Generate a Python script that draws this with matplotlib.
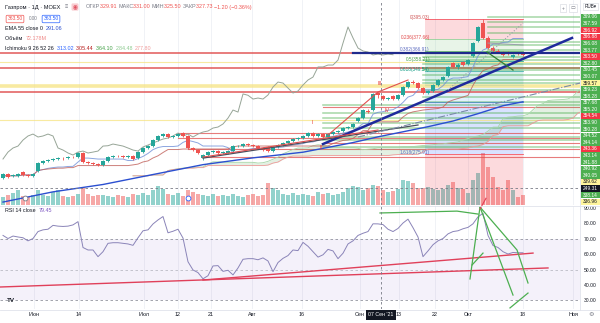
import numpy as np
import pandas as pd
import matplotlib
matplotlib.use("Agg")
import matplotlib.pyplot as plt
from matplotlib.patches import Rectangle, Circle

W, H = 600, 323
plt.rcParams["font.family"] = ["Liberation Sans", "DejaVu Sans"]

UP, DOWN = "#26a69a", "#ef5350"
TXT, GRAY = "#131722", "#787b86"

# ---- daily candles (RUB) ----
opens = [254.7, 258.2, 256.5, 256.5, 260.0, 257.3, 256.5, 260.9, 267.9, 269.7,
         270.6, 271.5, 272.3, 272.3, 273.2, 273.2, 276.8, 268.8, 267.9, 267.1,
         266.2, 269.7, 273.2, 274.1, 274.1, 273.2, 274.1, 272.3, 277.6, 281.2,
         282.9, 288.2, 291.8, 293.5, 290.9, 291.8, 294.4, 291.8, 281.2, 279.4,
         272.3, 275.0, 277.6, 278.5, 276.8, 276.8, 278.5, 282.9, 282.9, 284.7,
         283.8, 282.9, 281.2, 282.1, 278.5, 282.1, 283.8, 285.6, 287.4, 289.1,
         290.0, 291.8, 294.4, 291.8, 293.5, 290.9, 293.5, 295.3, 296.2, 298.8,
         299.7, 305.0, 307.6, 313.8, 314.7, 329.91, 327.0, 324.4, 327.1, 324.4,
         328.0, 335.0, 339.4, 338.5, 334.1, 329.7, 331.5, 336.8, 341.2, 344.7,
         356.2, 352.7, 357.1, 355.3, 362.4, 375.6, 391.5, 378.3, 369.4, 366.8,
         365.9, 365.0, 361.5, 365.0, 364.1]
highs = [259.5, 259.0, 258.0, 259.2, 261.0, 258.0, 259.0, 268.8, 270.5, 271.5,
         272.3, 273.0, 273.0, 274.0, 274.0, 277.6, 277.5, 269.7, 268.8, 268.0,
         270.6, 274.0, 275.0, 275.0, 275.0, 274.8, 274.8, 278.5, 282.0, 283.8,
         289.0, 292.6, 294.4, 294.4, 292.6, 294.4, 295.3, 292.5, 282.0, 280.3,
         275.8, 278.5, 279.4, 279.4, 278.5, 279.4, 283.8, 284.0, 285.6, 285.6,
         284.7, 283.8, 282.1, 283.0, 282.9, 284.7, 286.5, 288.2, 290.0, 291.0,
         292.6, 295.3, 295.3, 294.4, 294.4, 294.4, 296.2, 297.0, 299.7, 300.6,
         303.3, 308.5, 315.5, 315.5, 329.5, 331.0, 328.0, 326.2, 328.0, 328.8,
         335.9, 340.3, 341.2, 339.4, 335.0, 332.4, 337.7, 342.1, 344.7, 353.6,
         357.1, 356.2, 358.0, 359.7, 375.0, 389.0, 395.03, 380.0, 371.0, 368.5,
         367.0, 366.8, 364.1, 366.0, 365.5]
lows = [253.8, 255.0, 255.5, 256.0, 256.8, 255.8, 256.0, 260.0, 267.0, 268.8,
        269.8, 270.6, 271.0, 271.5, 272.3, 272.5, 268.0, 267.0, 266.2, 265.3,
        265.5, 269.0, 272.5, 273.2, 272.5, 272.5, 270.6, 271.5, 277.0, 280.5,
        282.0, 287.4, 291.0, 290.0, 290.0, 291.0, 291.0, 280.5, 278.5, 276.0,
        270.6, 274.1, 277.0, 276.0, 276.0, 276.0, 278.0, 282.0, 282.1, 283.0,
        282.1, 280.5, 278.5, 277.6, 277.8, 281.2, 283.0, 285.0, 286.5, 288.2,
        289.1, 291.0, 291.0, 291.0, 290.0, 290.0, 292.6, 294.4, 295.5, 298.0,
        299.0, 304.0, 307.0, 312.0, 314.0, 325.5, 323.5, 323.5, 323.5, 323.8,
        327.5, 334.1, 337.7, 333.2, 328.8, 328.8, 330.6, 336.0, 340.3, 343.8,
        351.8, 351.0, 353.6, 354.4, 361.5, 374.7, 377.0, 368.5, 366.0, 365.0,
        362.4, 363.0, 360.6, 363.3, 362.8]
closes = [258.2, 255.6, 257.3, 258.2, 257.3, 256.5, 258.2, 267.9, 269.7, 270.6,
          271.5, 272.3, 272.0, 273.2, 273.0, 276.8, 268.8, 267.9, 267.1, 266.2,
          269.7, 273.2, 274.1, 274.0, 273.2, 274.1, 271.5, 277.6, 281.2, 282.9,
          288.2, 291.8, 293.5, 290.9, 291.8, 293.5, 291.8, 281.2, 279.4, 276.8,
          275.0, 277.6, 278.5, 276.8, 277.6, 278.5, 282.9, 283.2, 284.7, 283.8,
          282.9, 281.2, 279.4, 278.5, 282.1, 283.8, 285.6, 287.4, 289.1, 290.0,
          291.8, 294.4, 291.8, 293.5, 290.9, 293.5, 295.3, 296.2, 298.8, 299.7,
          302.4, 307.6, 314.7, 312.9, 328.9, 327.73, 324.4, 325.3, 324.4, 328.0,
          335.0, 339.4, 338.5, 334.1, 329.7, 331.5, 336.8, 341.2, 343.8, 352.7,
          352.7, 354.4, 354.4, 358.8, 373.8, 388.0, 378.3, 369.4, 366.8, 365.9,
          363.3, 364.1, 363.3, 364.1, 363.5]
volumes = [30, 38, 46, 57, 34, 30, 38, 57, 38, 34,
           49, 57, 34, 30, 34, 42, 65, 42, 34, 38,
           38, 34, 30, 38, 34, 30, 42, 38, 46, 38,
           57, 72, 61, 42, 38, 46, 34, 57, 49, 42,
           38, 34, 42, 34, 38, 34, 42, 34, 30, 38,
           42, 34, 38, 84, 65, 57, 42, 38, 46, 38,
           42, 38, 34, 49, 42, 46, 38, 42, 49, 65,
           72, 68, 57, 65, 76, 72.178, 57, 49, 53, 61,
           95, 91, 84, 65, 65, 68, 61, 57, 61, 76,
           87, 65, 61, 46, 95, 122, 198, 144, 106, 68,
           57, 95, 57, 30, 38]
rsi = [72, 70, 71.6, 71, 70.5, 68.5, 70, 74.5, 75.6, 76,
       78.5, 78, 77.8, 78, 78.8, 80.9, 64.2, 62.6, 62.6, 58.3,
       61.5, 66.9, 67.3, 67.3, 66.9, 66.5, 65.6, 70.5, 75, 75.6,
       79.4, 82, 84.2, 73.7, 74.7, 76, 70.3, 55, 49.7, 48,
       44, 46, 52.3, 52.5, 48.8, 49.5, 46.5, 51, 56.6, 57,
       57, 56.3, 57.5, 55.5, 48.6, 54.5, 57.2, 59, 62.6, 62.2,
       67.5, 65, 61.5, 58, 59.5, 63, 62, 57, 60.5, 66.5,
       68.5, 72, 73.4, 74.5, 79.5, 79.45, 79, 76, 74.5, 76.5,
       80, 82.5, 77, 71, 58.3, 62, 66, 68.5, 70, 73,
       74.5, 75, 76.3, 77.2, 79.5, 84, 86.3, 72, 65.5, 64.2,
       61.5, 60, 61, 60.8, 60.8]

# EMA 55 at a few bars
ema_idx = [0, 10, 20, 30, 40, 50, 60, 70, 75, 80, 85, 90, 95, 100, 104]
ema_val = [233.5, 242.5, 249.0, 257.8, 266.5, 272.5, 277.5, 286.0, 291.06,
           295.5, 300.0, 305.0, 311.5, 318.5, 322.0]

# fibonacci retracement
fib_ratio = ["0", "0.236", "0.382", "0.5", "0.618", "0.786", "1", "1.618"]
fib_price = [395.03, 377.66, 366.91, 358.21, 349.54, 337.18, 321.43, 275.91]
fib_fill = ["#f23645", "#81c784", "#4caf50", "#089981", "#26a69a", "#64b5f6", "#2962ff", "#f23645"]
fib_text = ["#d05a5a", "#e04848", "#5c6bc0", "#43a047", "#089981", None, None, "#5c6bc0"]
FIB_FROM, FIB_TO = 84.4, 104.0

# horizontal drawings
red_full = [365.0, 352.2, 330.2]
yellow_full = [357.1, 335.9, 305.9]
red_part = [294.4, 290.0, 285.6, 280.1, 273.0, 317.4]
red_part_from = [35, 35, 64, 37, 40, 64]
green_lvls = [396.8, 392.4, 388.0, 382.7, 374.7, 372.1, 367.7,
              361.5, 358.8, 355.3, 352.2, 350.0, 345.6, 341.2, 338.5, 332.4, 326.2, 321.8,
              319.1, 312.1, 307.6, 303.2, 298.8, 290.9, 288.2, 282.1]
green_from = [97] * 7 + [84] * 11 + [64] * 8

# price scale tags
tags = ["369.06", "367.59", "366.92", "366.88", "366.08", "363.77", "363.50", "362.80",
        "360.45", "360.07", "359.57", "359.23", "358.28", "357.68", "355.20", "354.54",
        "353.90", "350.28", "344.52", "344.14", "343.36", "343.14", "341.88", "340.92",
        "340.05", "339.62", "249.31", "338.14", "336.96"]
tag_kind = "ggrrggrgggyggggrggggrggggykgy"

tick_pos = [6.2, 15.2, 28.2, 35, 41.6, 49.8, 59.8, 71.4, 79.2, 86.4, 93, 104, 114]
tick_lbl = ["Июн", "14", "Июл", "12", "21", "Авг", "16", "Сен", "13", "22", "Окт", "18", "Ноя"]
CROSS_I, CROSS_P = 75.6, 245.9

XLIM = (-0.6, 115.4)
PLIM = (230.9, 411.8)
RLIM = (24.5, 91.0)

idx = np.arange(len(closes))
o, h, l, c = map(np.array, (opens, highs, lows, closes))
up = c >= o
col = np.where(up, UP, DOWN)

fig = plt.figure(figsize=(W / 100, H / 100), dpi=100)
fig.patch.set_facecolor("white")


def fp(x, y):
    return x / W, 1 - y / H


ax_vol = fig.add_axes([0, 1 - 205 / H, 580 / W, 205 / H], zorder=1)
ax = fig.add_axes([0, 1 - 205 / H, 580 / W, 205 / H], zorder=2)
ax_rsi = fig.add_axes([0, 1 - 309 / H, 580 / W, 103 / H], zorder=1)
ax.patch.set_alpha(0)
for a in (ax_vol, ax, ax_rsi):
    a.set_xlim(XLIM)
    for s in a.spines.values():
        s.set_visible(False)
for a in (ax_vol, ax):
    a.set_xticks([])
    a.set_yticks([])
ax.set_ylim(PLIM)
ax_vol.set_ylim(0, 779)

# grid
for t in tick_pos:
    ax_vol.axvline(t, color="#eef0f5", lw=0.6, zorder=0)
    ax_rsi.axvline(t, color="#eef0f5", lw=0.6, zorder=0)

# volume
ax_vol.bar(idx, volumes, width=0.7, color=col, alpha=0.5, linewidth=0)

# fibonacci box
levels = fib_price + [PLIM[0]]
for k in range(len(fib_price)):
    ax.fill_between([FIB_FROM, FIB_TO], levels[k + 1], levels[k], color=fib_fill[k],
                    alpha=0.18, linewidth=0, zorder=0.5)
    ax.plot([FIB_FROM, FIB_TO], [fib_price[k]] * 2, color=fib_fill[k], lw=0.6, alpha=0.8, zorder=0.6)
    if fib_text[k]:
        ax.text(FIB_FROM + 1.0, fib_price[k] + 1.0, f"{fib_ratio[k]}({fib_price[k]:.2f})",
                ha="right", va="center", fontsize=3.4, color=fib_text[k], zorder=6)

# horizontal lines
for p in yellow_full:
    lw = 2.6 if p == 335.9 else 0.8
    ax.axhline(p, color="#f6e27a", lw=lw, alpha=0.7, zorder=1)
for p in red_full:
    ax.axhline(p, color="#e05050", lw=1.4, alpha=0.75, zorder=1)
for p, s in zip(red_part, red_part_from):
    ax.plot([s, XLIM[1]], [p, p], color="#e05050", lw=0.8, alpha=0.75, zorder=1)
for p, s in zip(green_lvls, green_from):
    ax.plot([s, XLIM[1]], [p, p], color="#4caf50", lw=1.1, alpha=0.5, zorder=1)

# ichimoku
hi, lo = pd.Series(highs), pd.Series(lows)
tenkan = (hi.rolling(9, min_periods=1).max() + lo.rolling(9, min_periods=1).min()) / 2
kijun = (hi.rolling(26, min_periods=1).max() + lo.rolling(26, min_periods=1).min()) / 2
span_a = ((tenkan + kijun) / 2).values
span_b = ((hi.rolling(52, min_periods=1).max() + lo.rolling(52, min_periods=1).min()) / 2).values
lead = idx + 26
ax.fill_between(lead, span_a, span_b, where=span_a >= span_b, interpolate=True,
                color="#43a047", alpha=0.15, linewidth=0, zorder=1.2)
ax.fill_between(lead, span_a, span_b, where=span_a < span_b, interpolate=True,
                color="#f23645", alpha=0.12, linewidth=0, zorder=1.2)
ax.plot(lead, span_a, color="#a5d6a7", lw=0.6, zorder=1.3)
ax.plot(lead, span_b, color="#ef9a9a", lw=0.6, zorder=1.3)
ax.plot(idx, tenkan, color="#6f8fd8", lw=0.7, alpha=0.8, zorder=1.4)
ax.plot(idx, kijun, color="#c0605a", lw=0.7, alpha=0.8, zorder=1.4)
ax.plot(idx[26:] - 26, closes[26:], color="#97a597", lw=0.7, zorder=1.4)

# EMA 55
ax.plot(ema_idx, ema_val, color="#2b4fd0", lw=1.0, zorder=1.6)

# candles
ax.vlines(idx, l, h, colors=col, lw=0.6, zorder=3)
body = np.maximum(np.abs(c - o), 0.35)
ax.bar(idx, body, bottom=np.minimum(o, c), width=0.7, color=col, linewidth=0, zorder=3.1)

# trend drawings
ax.plot([70, XLIM[1]], [365.0, 365.0], color="#1f2a8c", lw=1.6, zorder=4)
ax.plot([64, 113.8], [284.7, 378.3], color="#1f2a9c", lw=1.8, zorder=4)
ax.plot([40, 83], [272.3, 301.5], color="#4a4f5c", lw=0.9, zorder=4)
ax.plot([40, 75], [273.2, 297.1], color="#e05050", lw=0.8, zorder=4)
ax.plot([65, 75, 81], [292.6, 330.6, 341.2], color="#e05050", lw=0.8, zorder=4)
ax.plot([89, 104], [332.4, 391.5], color="#9aa0ac", lw=0.8, ls=":", zorder=4)
ax.plot([71, XLIM[1]], [290.9, 338.5], color="#7a8aa8", lw=0.8, ls="-.", zorder=4)
ax.plot([96.8, 102], [365.9, 350.0], color="#2e7d32", lw=0.9, zorder=4)
ax.plot([97, 104], [373.8, 372.1], color="#9aa0ac", lw=0.7, zorder=4)
for s, xi, pi in [("I", 61.8, 304.1), ("II", 63.6, 281.2), ("III", 75.4, 338.5), ("IV", 76.8, 314.7)]:
    ax.text(xi, pi, s, color="#e53935", fontsize=3.8, ha="center", va="center", zorder=6)
ax.plot([4.4], [237.0], "o", ms=3.5, mfc="white", mec=GRAY, mew=0.6, zorder=5)
ax.plot([37], [237.0], "o", ms=3.5, mfc="white", mec="#2962ff", mew=0.6, zorder=5)

# crosshair
ax.axvline(CROSS_I, color=GRAY, lw=0.6, ls=(0, (3, 3)), zorder=5)
ax.axhline(CROSS_P, color=GRAY, lw=0.6, ls=(0, (3, 3)), zorder=5)
ax_rsi.axvline(CROSS_I, color=GRAY, lw=0.6, ls=(0, (3, 3)), zorder=5)

# RSI pane
ax_rsi.set_ylim(RLIM)
ax_rsi.fill_between(XLIM, 30, 70, color="#7e57c2", alpha=0.08, linewidth=0)
for v, a in ((70, 0.8), (50, 0.45), (30, 0.8)):
    ax_rsi.axhline(v, color=GRAY, lw=0.6, ls=(0, (3, 3)), alpha=a)
ax_rsi.plot(idx, rsi, color="#8a84b8", lw=0.7, zorder=3)
ax_rsi.plot([-0.6, 109], [38.7, 51.0], color="#e0405a", lw=1.0, zorder=4)
ax_rsi.plot([40, 106], [43.2, 60.6], color="#e0405a", lw=1.0, zorder=4)
green_rsi = [[(75.4, 86.5), (90.8, 87.7), (95, 85.8)],
             [(95.4, 90.3), (93.4, 43.9)],
             [(95.4, 90.3), (102, 33.5)],
             [(95.4, 90.3), (102.8, 62.6), (105, 41.3)],
             [(93.8, 52.9), (96, 60.6)],
             [(101.4, 25.2), (105, 34.8)]]
for seg in green_rsi:
    xs, ys = zip(*seg)
    ax_rsi.plot(xs, ys, color="#4caf50", lw=0.9, zorder=4)
ax_rsi.plot([95.4, 96.6], [89.0, 96.0], color="#e0405a", lw=0.8, clip_on=False, zorder=4)
ax_rsi.yaxis.tick_right()
ax_rsi.set_yticks(range(30, 91, 10), [f"{v:.2f}" for v in range(30, 91, 10)])
ax_rsi.tick_params(axis="y", length=0, pad=3, labelsize=3.6, labelcolor=TXT)
ax_rsi.set_xticks(tick_pos, tick_lbl)
ax_rsi.tick_params(axis="x", length=0, pad=2, labelsize=3.9, labelcolor=TXT)

# separators
for y in (205.5, 309.5):
    fig.add_artist(plt.Line2D([0, 1], [1 - y / H] * 2, color="#e0e3eb", lw=0.6))
fig.add_artist(plt.Line2D([580 / W] * 2, [1 - 309.5 / H, 1], color="#e0e3eb", lw=0.6))

# price tags column
tag_bg = {"g": "#4caf50", "r": "#f23645", "y": "#fff59d", "k": TXT}
for k, (t, kind) in enumerate(zip(tags, tag_kind)):
    yc = 17 + 6.6 * k
    x0, y0 = fp(581, yc + 3.2)
    fig.add_artist(Rectangle((x0, y0), 18.5 / W, 6.4 / H, transform=fig.transFigure,
                             fc=tag_bg[kind], ec="none"))
    fig.text(*fp(590.2, yc), t, ha="center", va="center", fontsize=3.5,
             color=TXT if kind == "y" else "white")
fig.add_artist(Circle(fp(575, 17 + 6.6 * 26), 3 / W, transform=fig.transFigure,
                      fc="white", ec=TXT, lw=0.5))
fig.text(*fp(590.5, 6.5), "RUB▾", ha="center", va="center", fontsize=3.3, color=TXT,
         bbox=dict(boxstyle="square,pad=0.3", fc="white", ec="#d1d4dc", lw=0.4))
for xi, s in ((563, "+"), (573, "▭")):
    fig.text(*fp(xi, 8), s, ha="center", va="center", fontsize=3.5, color=GRAY,
             bbox=dict(boxstyle="square,pad=0.35", fc="white", ec="#d1d4dc", lw=0.4))

# header legend
rend = fig.canvas.get_renderer()


def chain(x, y, parts, size=3.9):
    for s, color in parts:
        t = fig.text(*fp(x, y), s, color=color, fontsize=size, ha="left", va="center")
        x = t.get_window_extent(rend).x1
    return x


chain(5, 7, [("Газпром · 1Д · MOEX", TXT)], size=4.1)
fig.text(*fp(66, 7), "≡", ha="center", va="center", fontsize=4, color=GRAY)
fig.text(*fp(75, 7), "◉", ha="center", va="center", fontsize=4, color="#e05060",
         bbox=dict(boxstyle="round,pad=0.2", fc="#f9cdd2", ec="none"))
red = "#ef5350"
chain(86, 7, [("ОТКР", GRAY), ("329.91 ", red), ("МАКС", GRAY), ("331.00 ", red),
              ("МИН", GRAY), ("325.50 ", red), ("ЗАКР", GRAY), ("327.73 ", red),
              ("−1.20 (−0.36%)", red)])
fig.text(*fp(15, 19), "363.50", ha="center", va="center", fontsize=3.6, color=red,
         bbox=dict(boxstyle="round,pad=0.25", fc="white", ec=red, lw=0.5))
fig.text(*fp(33, 19), "0.00", ha="center", va="center", fontsize=3.3, color=GRAY)
fig.text(*fp(51, 19), "363.50", ha="center", va="center", fontsize=3.6, color="#2962ff",
         bbox=dict(boxstyle="round,pad=0.25", fc="white", ec="#2962ff", lw=0.5))
chain(5, 29, [("EMA 55 close 0  ", TXT), ("291.06", "#2b4fd0")])
chain(5, 39, [("Объём  ", TXT), ("72.178M", "#f08a88")])
chain(5, 49, [("Ichimoku 9 26 52 26  ", TXT), ("313.02  ", "#2962ff"), ("305.44  ", "#b71c1c"),
              ("364.10  ", "#43a047"), ("284.48  ", "#8cc98f"), ("277.80", "#ef9a9a")])
chain(5, 211, [("RSI 14 close  ", TXT), ("79.45", "#7e57c2")])
fig.text(*fp(11, 300), "TV", ha="center", va="center", fontsize=4.5, fontweight="bold", color=TXT)
fig.text(*fp(381, 315), "07 Сен '21", ha="center", va="center", fontsize=3.8, color="white",
         bbox=dict(boxstyle="square,pad=0.4", fc=TXT, ec="none"), zorder=10)
fig.text(*fp(591, 315), "⚙", ha="center", va="center", fontsize=4.5, color=GRAY)

fig.savefig("out.png", dpi=100)
